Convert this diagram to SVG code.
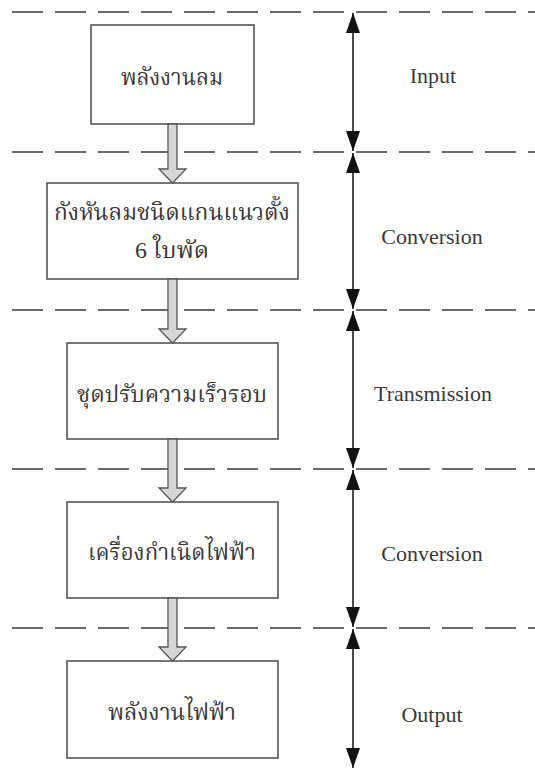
<svg xmlns="http://www.w3.org/2000/svg" width="535" height="771" viewBox="0 0 535 771">
<defs>
<style>
.dash{stroke:#3a3a3a;stroke-width:1.6;stroke-dasharray:31 12;fill:none}
.box{fill:#fff;stroke:#555;stroke-width:1.6}
.th{font-family:"Liberation Serif","Norasi","Noto Serif Thai","Noto Sans Thai","DejaVu Sans",serif;font-size:23px;fill:#3a3a3a;text-anchor:middle;dominant-baseline:central}
.en{font-family:"Liberation Serif",serif;font-size:22px;fill:#3a3a3a;text-anchor:middle;dominant-baseline:central}
.hollow{fill:#d6d6d6;stroke:#555;stroke-width:1.3;stroke-linejoin:miter}
.dbl{stroke:#111;stroke-width:1.5;fill:none;marker-start:url(#ah);marker-end:url(#ah)}
</style>
<marker id="ah" viewBox="0 0 20 14" refX="20" refY="7" markerWidth="20" markerHeight="14" markerUnits="userSpaceOnUse" orient="auto-start-reverse">
<path d="M0,0 L20,7 L0,14 Z" fill="#111"/>
</marker>
</defs>
<g id="dividers">
<line class="dash" x1="12" y1="12" x2="535" y2="12"/>
<line class="dash" x1="12" y1="152" x2="535" y2="152"/>
<line class="dash" x1="12" y1="310" x2="535" y2="310"/>
<line class="dash" x1="12" y1="469" x2="535" y2="469"/>
<line class="dash" x1="12" y1="628" x2="535" y2="628"/>
</g>
<g id="node-input">
<rect class="box" x="91" y="25" width="163" height="99"/>
<text class="th" x="172" y="77" textLength="102" lengthAdjust="spacingAndGlyphs">พลังงานลม</text>
</g>
<g id="node-turbine">
<rect class="box" x="47" y="183" width="251" height="96"/>
<text class="th" x="172" y="212" textLength="236" lengthAdjust="spacingAndGlyphs">กังหันลมชนิดแกนแนวตั้ง</text>
<text class="th" x="172" y="250" textLength="74" lengthAdjust="spacingAndGlyphs">6 ใบพัด</text>
</g>
<g id="node-gear">
<rect class="box" x="67" y="343" width="211" height="96"/>
<text class="th" x="172" y="394" textLength="190" lengthAdjust="spacingAndGlyphs">ชุดปรับความเร็วรอบ</text>
</g>
<g id="node-generator">
<rect class="box" x="67" y="502" width="211" height="96"/>
<text class="th" x="172" y="552" textLength="168" lengthAdjust="spacingAndGlyphs">เครื่องกำเนิดไฟฟ้า</text>
</g>
<g id="node-output">
<rect class="box" x="67" y="661" width="211" height="97"/>
<text class="th" x="172" y="712" textLength="128" lengthAdjust="spacingAndGlyphs">พลังงานไฟฟ้า</text>
</g>
<g id="connectors">
<path class="hollow" d="M168,124 L177,124 L177,169 L186,169 L172.5,183 L159,169 L168,169 Z"/>
<path class="hollow" d="M168,279 L177,279 L177,329 L186,329 L172.5,343 L159,329 L168,329 Z"/>
<path class="hollow" d="M168,439 L177,439 L177,488 L186,488 L172.5,502 L159,488 L168,488 Z"/>
<path class="hollow" d="M168,598 L177,598 L177,647 L186,647 L172.5,661 L159,647 L168,647 Z"/>
<line class="dbl" x1="353" y1="13" x2="353" y2="151"/>
<line class="dbl" x1="353" y1="153" x2="353" y2="309"/>
<line class="dbl" x1="353" y1="311" x2="353" y2="468"/>
<line class="dbl" x1="353" y1="470" x2="353" y2="627"/>
<line class="dbl" x1="353" y1="629" x2="353" y2="768"/>
</g>
<g id="labels">
<text class="en" x="433" y="75">Input</text>
<text class="en" x="432" y="236">Conversion</text>
<text class="en" x="433" y="393">Transmission</text>
<text class="en" x="432" y="553">Conversion</text>
<text class="en" x="432" y="714">Output</text>
</g>
</svg>
